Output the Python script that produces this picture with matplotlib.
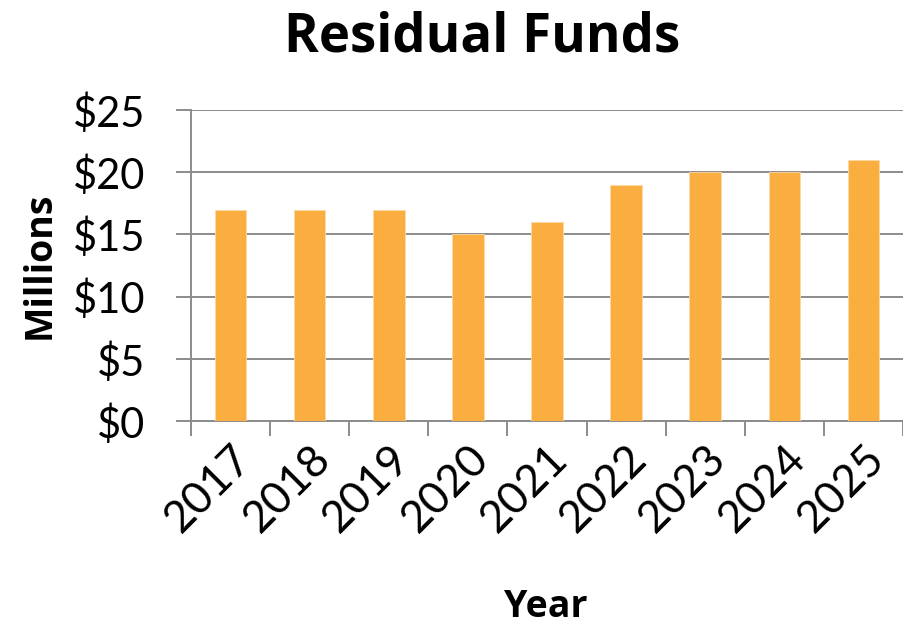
import matplotlib
matplotlib.use("Agg")
import matplotlib.pyplot as plt
import numpy as np

years = ["2017", "2018", "2019", "2020", "2021", "2022", "2023", "2024", "2025"]
values = [17, 17, 17, 15, 16, 19, 20, 20, 21]
yticks = [0, 5, 10, 15, 20, 25]
ytick_labels = ["$0", "$5", "$10", "$15", "$20", "$25"]

plt.rcParams['font.family'] = ['Lato', 'DejaVu Sans']
W, H = 904, 626
fig = plt.figure(figsize=(W/100, H/100), dpi=100)
ax = fig.add_axes([191/W, 1-421/H, (903-191)/W, (421-110)/H])

grid_c = '#8c8c8c'
x = np.arange(len(years))
ax.bar(x, values, width=0.4, color='#fbae40', edgecolor='#fdd9a6', linewidth=0.6, zorder=3)
ax.set_xlim(-0.5, len(years)-0.5)
ax.set_ylim(0, 25)
ax.set_yticks(yticks)
ax.set_yticklabels(ytick_labels, fontsize=30)
ax.yaxis.grid(True, color=grid_c, linewidth=1.4, zorder=0)
ax.set_axisbelow(True)

ax.set_xticks(x)
ax.set_xticklabels(years, fontsize=32, rotation=45, ha='right', va='top', rotation_mode='anchor')
ax.set_xticks(np.arange(-0.5, len(years)), minor=True)
ax.tick_params(axis='x', which='major', length=0, pad=12)
ax.tick_params(axis='x', which='minor', length=11, width=1.4, color=grid_c)
ax.tick_params(axis='y', length=11, width=1.4, color=grid_c, pad=22)

for s in ['top', 'right']:
    ax.spines[s].set_visible(False)
for s in ['left', 'bottom']:
    ax.spines[s].set_color(grid_c)
    ax.spines[s].set_linewidth(1.4)

bold_font = ['Open Sans', 'DejaVu Sans']
fig.text(482/W, 1-52/H, "Residual Funds", fontsize=38, fontweight='bold', family=bold_font,
         ha='center', va='baseline')
fig.text(50/W, 1-265/H, "Millions", fontsize=27, fontweight='bold', family=bold_font,
         ha='center', va='baseline', rotation=90, rotation_mode='anchor')
fig.text(546/W, 1-617/H, "Year", fontsize=27, fontweight='bold', family=bold_font,
         ha='center', va='baseline')

fig.savefig("out.png", dpi=100)
